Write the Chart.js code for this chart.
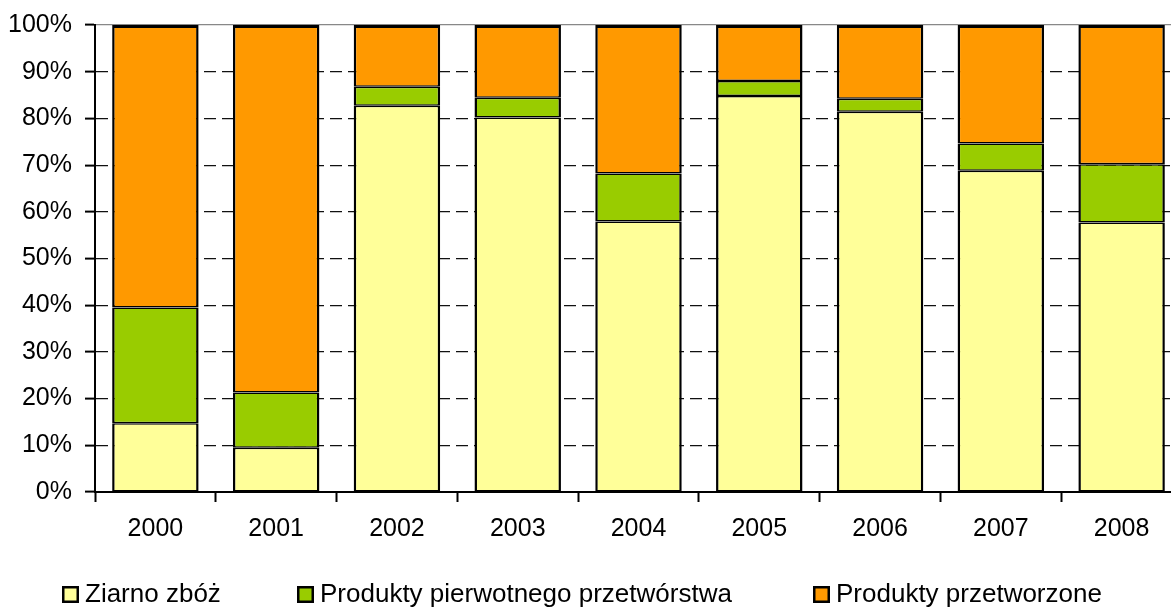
<!DOCTYPE html>
<html>
<head>
<meta charset="utf-8">
<script src="https://cdn.jsdelivr.net/npm/chart.js@4/dist/chart.umd.min.js"></script>
<style>
  html, body { margin: 0; padding: 0; background: #fff; overflow: hidden; }
  #wrap { width: 1182px; height: 608px; }
</style>
</head>
<body>
<div id="wrap"><canvas id="chart" width="1182" height="608"></canvas></div>
<script>
// lata
const years = ['2000', '2001', '2002', '2003', '2004', '2005', '2006', '2007', '2008'];

// udzialy w %
const ziarno = [14.7, 9.5, 82.7, 80.2, 57.9, 84.8, 81.4, 68.8, 57.7];
const pierwotne = [24.8, 11.8, 4.1, 4.2, 10.3, 3.2, 2.8, 5.8, 12.5];
const przetworzone = [60.5, 78.7, 13.2, 15.6, 31.8, 12.0, 15.8, 25.4, 29.8];

const seriesNames = ['Ziarno zbóż', 'Produkty pierwotnego przetwórstwa', 'Produkty przetworzone'];
const seriesColors = ['#FFFF99', '#99CC00', '#FF9900'];

const yTicks = [0, 10, 20, 30, 40, 50, 60, 70, 80, 90, 100];

Chart.defaults.font.family = '"Liberation Sans", Arial, sans-serif';
Chart.defaults.color = '#000';

function makeSet(i, values) {
    return {
        label: seriesNames[i],
        data: values,
        backgroundColor: seriesColors[i],
        borderColor: '#000',
        borderWidth: { top: i === 2 ? 3 : 1.5, bottom: 1.5, left: 2.5, right: 2.5 },
        borderSkipped: false,
        categoryPercentage: 1,
        barPercentage: 0.716
    };
}

// legenda w jednym rzedzie, jak w Excelu (wbudowana nie daje takich odstepow)
const legendX = [62, 297, 813];
const legendRow = {
    id: 'legendRow',
    afterDraw(chart) {
        const c = chart.ctx;
        const y = 586;
        c.save();
        c.font = '26px "Liberation Sans", Arial, sans-serif';
        c.textBaseline = 'middle';
        chart.data.datasets.forEach((ds, i) => {
            const x = legendX[i];
            c.fillStyle = '#000';
            c.fillRect(x, y, 17, 17);
            c.fillStyle = ds.backgroundColor;
            c.fillRect(x + 2.5, y + 2.5, 12, 12);
            c.fillStyle = '#000';
            c.fillText(ds.label, x + 23, y + 9);
        });
        c.restore();
    }
};

const ctx = document.getElementById('chart').getContext('2d');
new Chart(ctx, {
    type: 'bar',
    data: {
        labels: years,
        datasets: [makeSet(0, ziarno), makeSet(1, pierwotne), makeSet(2, przetworzone)]
    },
    plugins: [legendRow],
    options: {
        responsive: false,
        animation: false,
        devicePixelRatio: 1,
        layout: { padding: { left: 0, right: 0, top: 25, bottom: 52 } },
        plugins: {
            tooltip: { enabled: false },
            legend: { display: false }
        },
        scales: {
            x: {
                stacked: true,
                grid: {
                    drawOnChartArea: false,
                    tickLength: 10,
                    tickColor: '#000',
                    tickWidth: 2,
                    offset: true
                },
                border: { color: '#000', width: 2 },
                ticks: { font: { size: 25 }, color: '#000', padding: 12, maxRotation: 0 }
            },
            y: {
                stacked: true,
                min: 0,
                max: 100,
                afterFit: (s) => { s.width = 95; s.paddingTop = 0; s.paddingBottom = 0; },
                afterBuildTicks: (s) => { s.ticks = yTicks.map(v => ({ value: v })); },
                grid: {
                    color: (c) => (c.tick && c.tick.value === 100) ? '#888' : '#111',
                    lineWidth: 1.2,
                    tickLength: 10,
                    tickColor: '#000',
                    tickWidth: 2
                },
                border: {
                    color: '#000',
                    width: 2,
                    dash: (c) => (c.tick && c.tick.value < 100) ? [12, 6] : []
                },
                ticks: {
                    font: { size: 25 },
                    color: '#000',
                    padding: 13,
                    callback: (v) => v + '%'
                }
            }
        }
    }
});
</script>
</body>
</html>
